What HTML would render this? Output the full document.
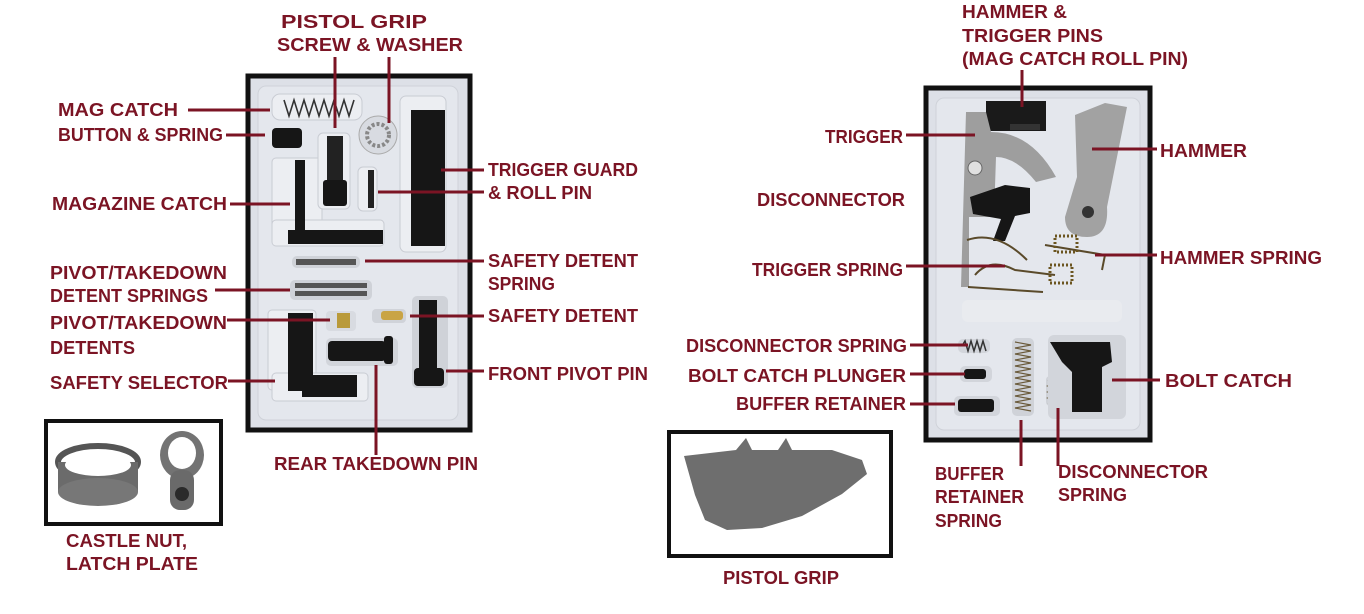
<!DOCTYPE html>
<html><head><meta charset="utf-8"><style>
html,body{margin:0;padding:0;background:#fff;}
svg{display:block;}
text{font-family:"Liberation Sans",sans-serif;font-weight:bold;font-size:18px;fill:#7b1424;dominant-baseline:central;}
.l{stroke:#7b1424;stroke-width:3;fill:none;}
.k{fill:#161616;}
.r{fill:#eceef2;stroke:#c9ccd3;stroke-width:1;}
</style></head><body>
<svg width="1364" height="614" viewBox="0 0 1364 614" xmlns="http://www.w3.org/2000/svg">
<!-- LEFT TRAY -->
<rect x="248" y="76" width="222" height="354" fill="#dde0e7" stroke="#111" stroke-width="5"/>
<rect x="258" y="86" width="200" height="334" rx="8" fill="#e4e7ed" stroke="#cfd2d9"/>
<rect x="272" y="94" width="90" height="26" rx="8" class="r"/>
<path d="M284 100 l5 16 l5 -16 l5 16 l5 -16 l5 16 l5 -16 l5 16 l5 -16 l5 16 l5 -16 l5 16 l5 -16 l5 16 l5 -16" stroke="#333" stroke-width="1.6" fill="none"/>
<rect x="272" y="128" width="30" height="20" rx="4" class="k"/>
<rect x="272" y="158" width="50" height="86" rx="4" class="r"/>
<rect x="272" y="220" width="112" height="26" rx="4" class="r"/>
<rect x="295" y="160" width="10" height="78" class="k"/>
<rect x="288" y="230" width="95" height="14" class="k"/>
<rect x="318" y="133" width="32" height="76" rx="5" class="r"/>
<rect x="327" y="136" width="16" height="50" fill="#222"/>
<rect x="323" y="180" width="24" height="26" rx="3" class="k"/>
<circle cx="378" cy="135" r="19" fill="#d8dbe1" stroke="#aaa"/>
<circle cx="378" cy="135" r="11" fill="none" stroke="#888" stroke-width="4" stroke-dasharray="3 2"/>
<rect x="358" y="167" width="19" height="44" rx="5" class="r"/>
<rect x="368" y="170" width="6" height="38" fill="#222"/>
<rect x="400" y="96" width="46" height="156" rx="6" class="r"/>
<rect x="411" y="110" width="34" height="136" class="k"/>
<rect x="292" y="256" width="68" height="12" rx="5" fill="#cfd2d8"/>
<rect x="296" y="259" width="60" height="6" fill="#555"/>
<rect x="290" y="280" width="82" height="20" rx="5" fill="#cfd2d8"/>
<rect x="295" y="283" width="72" height="5" fill="#555"/>
<rect x="295" y="291" width="72" height="5" fill="#555"/>
<rect x="326" y="311" width="30" height="20" rx="4" fill="#d8dbe1"/>
<rect x="337" y="313" width="13" height="15" fill="#b99a3a"/>
<rect x="372" y="309" width="34" height="14" rx="4" fill="#d0d3d9"/>
<rect x="381" y="311" width="22" height="9" rx="3" fill="#c9a445"/>
<rect x="268" y="310" width="48" height="80" rx="4" class="r"/>
<rect x="272" y="373" width="96" height="28" rx="4" class="r"/>
<rect x="288" y="313" width="25" height="78" class="k"/>
<rect x="302" y="375" width="55" height="22" class="k"/>
<rect x="326" y="338" width="72" height="28" rx="5" fill="#d2d5db"/>
<rect x="328" y="341" width="58" height="20" rx="4" class="k"/>
<rect x="384" y="336" width="9" height="28" rx="3" class="k"/>
<rect x="412" y="296" width="36" height="92" rx="5" fill="#cfd2d8"/>
<rect x="419" y="300" width="18" height="76" class="k"/>
<rect x="414" y="368" width="30" height="18" rx="4" class="k"/>

<!-- CASTLE NUT BOX -->
<rect x="46" y="421" width="175" height="103" fill="#fff" stroke="#111" stroke-width="4"/>
<ellipse cx="98" cy="462" rx="40" ry="16" fill="none" stroke="#555" stroke-width="6"/>
<rect x="58" y="462" width="80" height="30" fill="#6b6b6b"/>
<ellipse cx="98" cy="492" rx="40" ry="14" fill="#777"/>
<ellipse cx="98" cy="465" rx="33" ry="11" fill="#fff"/>
<ellipse cx="182" cy="455" rx="22" ry="24" fill="#737373"/>
<ellipse cx="182" cy="453" rx="14" ry="16" fill="#fff"/>
<rect x="170" y="470" width="24" height="40" rx="10" fill="#6a6a6a"/>
<circle cx="182" cy="494" r="7" fill="#2a2a2a"/>

<!-- RIGHT TRAY -->
<rect x="926" y="88" width="224" height="352" fill="#dde0e7" stroke="#111" stroke-width="5"/>
<rect x="936" y="98" width="204" height="332" rx="8" fill="#e4e7ed" stroke="#cfd2d9"/>
<rect x="986" y="101" width="60" height="30" fill="#1a1a1a"/>
<rect x="1010" y="124" width="30" height="6" fill="#333"/>
<path d="M966 112 l20 0 l5 20 q40 0 65 45 l-20 5 q-20 -25 -40 -25 l-2 60 l-25 0 l0 70 l-8 0 z" fill="#9e9e9e"/>
<circle cx="975" cy="168" r="7" fill="#e0e0e0" stroke="#666"/>
<path d="M970 197 l35 -12 l25 3 l0 25 l-15 3 l-10 25 l-12 0 l8 -22 l-28 -5 z" class="k"/>
<path d="M1075 115 l30 -12 l22 4 l-10 50 l-10 50 q2 30 -20 30 q-22 0 -22 -20 l12 -40 z" fill="#a2a2a2"/>
<circle cx="1088" cy="212" r="6" fill="#333"/>
<path d="M967 240 q30 -10 60 20 M975 275 q15 -18 40 -5 l40 5 M1045 245 l60 10 l-3 15 M968 287 l75 5" stroke="#5a4a2a" stroke-width="2" fill="none"/>
<rect x="1055" y="236" width="22" height="16" fill="none" stroke="#6b5520" stroke-width="3" stroke-dasharray="2 2"/>
<rect x="1050" y="265" width="22" height="18" fill="none" stroke="#6b5520" stroke-width="3" stroke-dasharray="2 2"/>
<rect x="962" y="300" width="160" height="22" rx="6" fill="#e9ebef"/>
<rect x="958" y="339" width="32" height="14" rx="5" fill="#d2d5db"/>
<path d="M962 346 l3 -5 l3 10 l3 -10 l3 10 l3 -10 l3 10 l3 -10 l3 10" stroke="#333" stroke-width="1.5" fill="none"/>
<rect x="960" y="366" width="32" height="16" rx="5" fill="#d2d5db"/>
<rect x="964" y="369" width="22" height="10" rx="3" class="k"/>
<rect x="954" y="396" width="46" height="20" rx="5" fill="#d2d5db"/>
<rect x="958" y="399" width="36" height="13" rx="3" class="k"/>
<rect x="1012" y="338" width="22" height="78" rx="5" fill="#cfd2d8"/>
<path d="M1015 342 l16 3 l-16 3 l16 3 l-16 3 l16 3 l-16 3 l16 3 l-16 3 l16 3 l-16 3 l16 3 l-16 3 l16 3 l-16 3 l16 3 l-16 3 l16 3 l-16 3 l16 3 l-16 3 l16 3 l-16 3 l16 3" stroke="#6a5a3a" stroke-width="1.2" fill="none"/>
<rect x="1046" y="376" width="14" height="30" rx="4" fill="#cfd2d8"/>
<path d="M1048 380 l10 3 l-10 3 l10 3 l-10 3 l10 3 l-10 3 l10 3 l-10 3" stroke="#6a5a3a" stroke-width="1.2" fill="none"/>
<rect x="1048" y="335" width="78" height="84" rx="6" fill="#d2d5db"/>
<path d="M1050 342 l60 0 l2 20 l-10 5 l0 45 l-30 0 l0 -40 l-10 -10 z" class="k"/>

<!-- PISTOL GRIP BOX -->
<rect x="669" y="432" width="222" height="124" fill="#fff" stroke="#111" stroke-width="4"/>
<path d="M684 456 l52 -6 l10 -12 l6 12 l26 0 l8 -12 l6 12 l40 0 l30 10 l5 14 l-25 20 l-40 22 l-40 12 l-35 2 l-22 -10 l-10 -25 z" fill="#6e6e6e"/>

<!-- LEADERS -->
<g class="l">
<path d="M188 110 H270"/><path d="M226 135 H265"/><path d="M230 204 H290"/>
<path d="M335 57 V128"/><path d="M389 57 V123"/>
<path d="M441 170 H484"/><path d="M378 192 H484"/><path d="M365 261 H484"/>
<path d="M215 290 H290"/><path d="M227 320 H330"/><path d="M410 316 H484"/>
<path d="M446 371 H484"/><path d="M228 381 H275"/><path d="M376 365 V455"/>
<path d="M1022 70 V107"/><path d="M906 135 H975"/><path d="M1092 149 H1157"/>
<path d="M1095 255 H1157"/><path d="M906 266 H1005"/><path d="M910 345 H968"/>
<path d="M910 374 H965"/><path d="M910 404 H955"/><path d="M1112 380 H1160"/>
<path d="M1021 420 V466"/><path d="M1058 408 V466"/>
</g>

<!-- LABELS -->
<g lengthAdjust="spacingAndGlyphs">
<text lengthAdjust="spacingAndGlyphs" x="281" y="22" textLength="146">PISTOL GRIP</text>
<text lengthAdjust="spacingAndGlyphs" x="277" y="45" textLength="186">SCREW &amp; WASHER</text>
<text lengthAdjust="spacingAndGlyphs" x="58" y="110" textLength="120">MAG CATCH</text>
<text lengthAdjust="spacingAndGlyphs" x="58" y="135" textLength="165">BUTTON &amp; SPRING</text>
<text lengthAdjust="spacingAndGlyphs" x="52" y="204" textLength="175">MAGAZINE CATCH</text>
<text lengthAdjust="spacingAndGlyphs" x="488" y="170" textLength="150">TRIGGER GUARD</text>
<text lengthAdjust="spacingAndGlyphs" x="488" y="193" textLength="104">&amp; ROLL PIN</text>
<text lengthAdjust="spacingAndGlyphs" x="488" y="261" textLength="150">SAFETY DETENT</text>
<text lengthAdjust="spacingAndGlyphs" x="488" y="284" textLength="67">SPRING</text>
<text lengthAdjust="spacingAndGlyphs" x="50" y="273" textLength="177">PIVOT/TAKEDOWN</text>
<text lengthAdjust="spacingAndGlyphs" x="50" y="296" textLength="158">DETENT SPRINGS</text>
<text lengthAdjust="spacingAndGlyphs" x="50" y="323" textLength="177">PIVOT/TAKEDOWN</text>
<text lengthAdjust="spacingAndGlyphs" x="50" y="348" textLength="85">DETENTS</text>
<text lengthAdjust="spacingAndGlyphs" x="488" y="316" textLength="150">SAFETY DETENT</text>
<text lengthAdjust="spacingAndGlyphs" x="488" y="374" textLength="160">FRONT PIVOT PIN</text>
<text lengthAdjust="spacingAndGlyphs" x="50" y="383" textLength="178">SAFETY SELECTOR</text>
<text lengthAdjust="spacingAndGlyphs" x="274" y="464" textLength="204">REAR TAKEDOWN PIN</text>
<text lengthAdjust="spacingAndGlyphs" x="66" y="541" textLength="121">CASTLE NUT,</text>
<text lengthAdjust="spacingAndGlyphs" x="66" y="564" textLength="132">LATCH PLATE</text>
<text lengthAdjust="spacingAndGlyphs" x="962" y="12" textLength="105">HAMMER &amp;</text>
<text lengthAdjust="spacingAndGlyphs" x="962" y="36" textLength="141">TRIGGER PINS</text>
<text lengthAdjust="spacingAndGlyphs" x="962" y="59" textLength="226">(MAG CATCH ROLL PIN)</text>
<text lengthAdjust="spacingAndGlyphs" x="825" y="137" textLength="78">TRIGGER</text>
<text lengthAdjust="spacingAndGlyphs" x="1160" y="151" textLength="87">HAMMER</text>
<text lengthAdjust="spacingAndGlyphs" x="757" y="200" textLength="148">DISCONNECTOR</text>
<text lengthAdjust="spacingAndGlyphs" x="752" y="270" textLength="151">TRIGGER SPRING</text>
<text lengthAdjust="spacingAndGlyphs" x="1160" y="258" textLength="162">HAMMER SPRING</text>
<text lengthAdjust="spacingAndGlyphs" x="686" y="346" textLength="221">DISCONNECTOR SPRING</text>
<text lengthAdjust="spacingAndGlyphs" x="688" y="376" textLength="218">BOLT CATCH PLUNGER</text>
<text lengthAdjust="spacingAndGlyphs" x="736" y="404" textLength="170">BUFFER RETAINER</text>
<text lengthAdjust="spacingAndGlyphs" x="1165" y="381" textLength="127">BOLT CATCH</text>
<text lengthAdjust="spacingAndGlyphs" x="935" y="474" textLength="69">BUFFER</text>
<text lengthAdjust="spacingAndGlyphs" x="935" y="497" textLength="89">RETAINER</text>
<text lengthAdjust="spacingAndGlyphs" x="935" y="521" textLength="67">SPRING</text>
<text lengthAdjust="spacingAndGlyphs" x="1058" y="472" textLength="150">DISCONNECTOR</text>
<text lengthAdjust="spacingAndGlyphs" x="1058" y="495" textLength="69">SPRING</text>
<text lengthAdjust="spacingAndGlyphs" x="723" y="578" textLength="116">PISTOL GRIP</text>
</g>
</svg>
</body></html>
